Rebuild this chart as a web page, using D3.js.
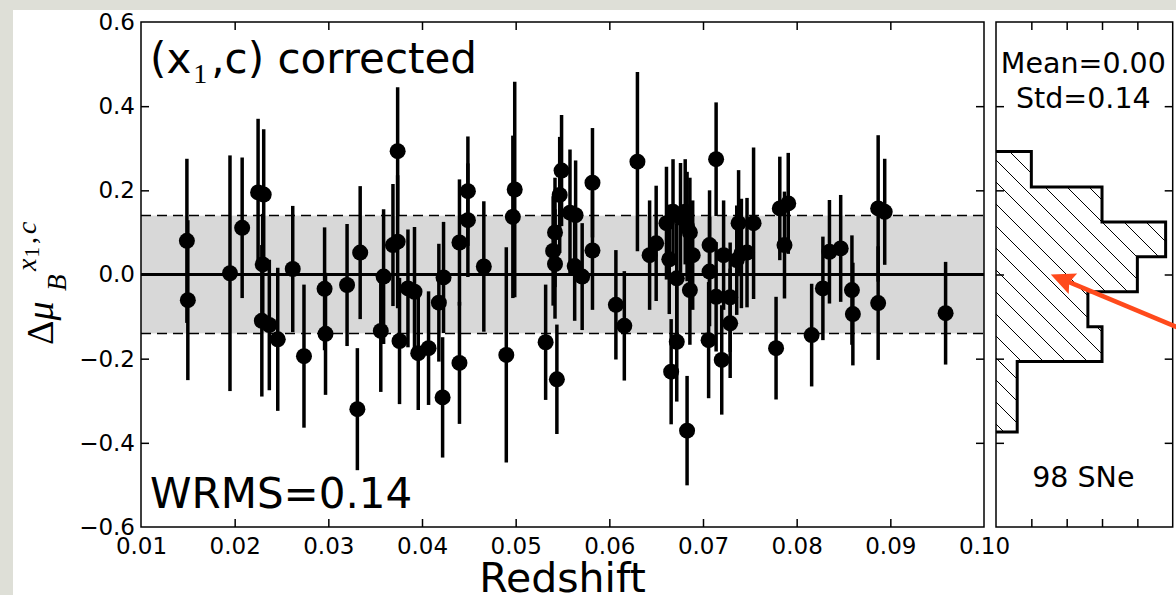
<!DOCTYPE html>
<html>
<head>
<meta charset="utf-8">
<script src="https://cdn.jsdelivr.net/npm/d3@7"></script>
<style>
  body { margin: 0; background: #dedfd7; }
  svg { display: block; }
  .tick text { font-family: 'DejaVu Sans', sans-serif; font-size: 23px; fill: #000; }
  .txt { font-family: 'DejaVu Sans', sans-serif; fill: #000; }
</style>
</head>
<body>
<div id="chart"></div>
<script>
// redshift, Hubble residual, error
const redshift = [
  0.0149, 0.0150, 0.0195, 0.0208, 0.0225, 0.0231, 0.0230, 0.0229, 0.0237, 0.0246,
  0.0262, 0.0274, 0.0296, 0.0297, 0.0320, 0.0331, 0.0334, 0.0356, 0.0359, 0.0369,
  0.0374, 0.0374, 0.0376, 0.0385, 0.0392, 0.0396, 0.0407, 0.0418, 0.0422, 0.0423,
  0.0440, 0.0440, 0.0449, 0.0449, 0.0466, 0.0490, 0.0499, 0.0497, 0.0532, 0.0544,
  0.0542, 0.0540, 0.0542, 0.0549, 0.0547, 0.0558, 0.0564, 0.0563, 0.0571, 0.0582,
  0.0582, 0.0607, 0.0616, 0.0630, 0.0643, 0.0650, 0.0661, 0.0664, 0.0668, 0.0672,
  0.0666, 0.0672, 0.0681, 0.0683, 0.0689, 0.0686, 0.0683, 0.0714, 0.0707, 0.0707,
  0.0706, 0.0714, 0.0722, 0.0720, 0.0729, 0.0729, 0.0738, 0.0736, 0.0741, 0.0747,
  0.0754, 0.0778, 0.0782, 0.0791, 0.0787, 0.0816, 0.0828, 0.0835, 0.0847, 0.0859,
  0.0860, 0.0887, 0.0894, 0.0887, 0.0959, 0.0686, 0.0676
];
const residual = [
  0.080, -0.061, 0.003, 0.111, 0.195, 0.190, 0.024, -0.110, -0.120, -0.154,
  0.013, -0.194, -0.034, -0.141, -0.025, -0.320, 0.052, -0.134, -0.005, 0.070,
  0.293, 0.078, -0.158, -0.033, -0.041, -0.187, -0.175, -0.067, -0.292, -0.007,
  0.076, -0.210, 0.198, 0.129, 0.019, -0.191, 0.202, 0.137, -0.161, -0.249,
  0.100, 0.056, 0.025, 0.247, 0.189, 0.147, 0.141, 0.020, -0.005, 0.218,
  0.057, -0.072, -0.122, 0.268, 0.046, 0.074, 0.122, 0.036, 0.149, -0.160,
  -0.231, -0.009, 0.149, 0.114, 0.046, -0.037, -0.371, 0.274, 0.070, 0.007,
  -0.156, -0.053, 0.046, -0.203, -0.116, -0.054, 0.122, 0.034, 0.050, 0.052,
  0.122, -0.175, 0.157, 0.169, 0.070, -0.144, -0.033, 0.054, 0.062, -0.037,
  -0.094, 0.157, 0.149, -0.068, -0.092, 0.100, 0.135
];
const residualErr = [
  0.195, 0.190, 0.280, 0.167, 0.175, 0.155, 0.120, 0.180, 0.155, 0.170,
  0.150, 0.170, 0.146, 0.145, 0.145, 0.145, 0.158, 0.145, 0.160, 0.145,
  0.152, 0.158, 0.150, 0.140, 0.154, 0.135, 0.135, 0.140, 0.143, 0.132,
  0.150, 0.145, 0.130, 0.135, 0.155, 0.256, 0.256, 0.193, 0.137, 0.130,
  0.130, 0.130, 0.130, 0.132, 0.138, 0.150, 0.130, 0.130, 0.127, 0.130,
  0.141, 0.130, 0.130, 0.213, 0.130, 0.137, 0.134, 0.130, 0.125, 0.142,
  0.125, 0.130, 0.125, 0.130, 0.130, 0.130, 0.130, 0.135, 0.130, 0.130,
  0.138, 0.130, 0.130, 0.130, 0.130, 0.130, 0.126, 0.130, 0.130, 0.130,
  0.180, 0.122, 0.123, 0.120, 0.127, 0.122, 0.123, 0.123, 0.127, 0.130,
  0.122, 0.174, 0.126, 0.135, 0.122, 0.130, 0.130
];

const xTicks = [0.01, 0.02, 0.03, 0.04, 0.05, 0.06, 0.07, 0.08, 0.09, 0.10];
const yTicks = [-0.6, -0.4, -0.2, 0.0, 0.2, 0.4, 0.6];
const histTicks = [1, 2, 3, 4];

// histogram of residuals (horizontal), edges in mag, normalised height
const histEdges = [-0.374, -0.290, -0.207, -0.124, -0.041, 0.042, 0.125, 0.208, 0.292];
const histValues = [0.6, 0.6, 3.0, 2.6, 4.0, 4.8, 3.0, 1.0];

const stdBand = 0.14;
const arrowTip = [1.55, 0.0];
const arrowTail = [5.4, -0.135];

const dims = {
  width: 1176,
  height: 595,
  main: { left: 141, right: 984, top: 22, bottom: 527 },
  hist: { left: 996, right: 1172.7 },
};

const svg = d3.select('#chart').append('svg').attr('width', dims.width).attr('height', dims.height);

svg.append('rect').attr('x', 13).attr('y', 10).attr('width', dims.width - 13).attr('height', dims.height - 10).attr('fill', '#fff');

const xScale = d3.scaleLinear().domain([0.01, 0.10]).range([dims.main.left, dims.main.right]);
const yScale = d3.scaleLinear().domain([-0.6, 0.6]).range([dims.main.bottom, dims.main.top]);
const hScale = d3.scaleLinear().domain([0, 5]).range([dims.hist.left, dims.hist.right]);

const points = redshift.map((z, i) => ({ z, mu: residual[i], err: residualErr[i] }));

// shaded +-1 std band
svg.append('rect')
  .attr('x', dims.main.left)
  .attr('y', yScale(stdBand))
  .attr('width', dims.main.right - dims.main.left)
  .attr('height', yScale(-stdBand) - yScale(stdBand))
  .attr('fill', '#d8d8d8');

[stdBand, -stdBand].forEach((v) => {
  svg.append('line')
    .attr('x1', dims.main.left).attr('x2', dims.main.right)
    .attr('y1', yScale(v)).attr('y2', yScale(v))
    .attr('stroke', '#000').attr('stroke-width', 1.5).attr('stroke-dasharray', '10,6');
});

svg.append('line')
  .attr('x1', dims.main.left).attr('x2', dims.main.right)
  .attr('y1', yScale(0)).attr('y2', yScale(0))
  .attr('stroke', '#000').attr('stroke-width', 3);

svg.append('g')
  .selectAll('line')
  .data(points)
  .join('line')
  .attr('x1', (d) => xScale(d.z)).attr('x2', (d) => xScale(d.z))
  .attr('y1', (d) => yScale(d.mu + d.err)).attr('y2', (d) => yScale(d.mu - d.err))
  .attr('stroke', '#000').attr('stroke-width', 3.5);

svg.append('g')
  .selectAll('circle')
  .data(points)
  .join('circle')
  .attr('cx', (d) => xScale(d.z))
  .attr('cy', (d) => yScale(d.mu))
  .attr('r', 8)
  .attr('fill', '#000');

// axes of the main panel, ticks inward
const mainH = dims.main.bottom - dims.main.top;
const mainW = dims.main.right - dims.main.left;
const inner = (v, lo, hi) => v > lo + 1e-9 && v < hi - 1e-9;

svg.append('g')
  .attr('transform', `translate(0, ${dims.main.bottom})`)
  .call(d3.axisBottom(xScale).tickValues(xTicks).tickFormat(d3.format('.2f')).tickSizeInner(-8).tickSizeOuter(0).tickPadding(11))
  .call((g) => g.select('.domain').remove())
  .call((g) => g.selectAll('.tick line').attr('stroke-width', 1.5).attr('opacity', (d) => (inner(d, 0.01, 0.10) ? 1 : 0)));

svg.append('g')
  .attr('transform', `translate(0, ${dims.main.top})`)
  .call(d3.axisTop(xScale).tickValues(xTicks.filter((d) => inner(d, 0.01, 0.10))).tickFormat('').tickSizeInner(-8).tickSizeOuter(0))
  .call((g) => g.select('.domain').remove())
  .call((g) => g.selectAll('.tick line').attr('stroke-width', 1.5));

svg.append('g')
  .attr('transform', `translate(${dims.main.left}, 0)`)
  .call(d3.axisLeft(yScale).tickValues(yTicks).tickFormat(d3.format('.1f')).tickSizeInner(-8).tickSizeOuter(0).tickPadding(6))
  .call((g) => g.select('.domain').remove())
  .call((g) => g.selectAll('.tick line').attr('stroke-width', 1.5).attr('opacity', (d) => (inner(d, -0.6, 0.6) ? 1 : 0)));

svg.append('g')
  .attr('transform', `translate(${dims.main.right}, 0)`)
  .call(d3.axisRight(yScale).tickValues(yTicks.filter((d) => inner(d, -0.6, 0.6))).tickFormat('').tickSizeInner(-8).tickSizeOuter(0))
  .call((g) => g.select('.domain').remove())
  .call((g) => g.selectAll('.tick line').attr('stroke-width', 1.5));

svg.append('rect')
  .attr('x', dims.main.left).attr('y', dims.main.top)
  .attr('width', mainW).attr('height', mainH)
  .attr('fill', 'none').attr('stroke', '#000').attr('stroke-width', 1.5);

// histogram panel
const defs = svg.append('defs');
const pat = defs.append('pattern')
  .attr('id', 'hatch').attr('patternUnits', 'userSpaceOnUse')
  .attr('width', 22).attr('height', 22);
pat.append('path').attr('d', 'M0,0 L22,22 M-11,11 L11,33 M11,-11 L33,11')
  .attr('stroke', '#000').attr('stroke-width', 1);

const histPts = [[0, histEdges[0]]];
histValues.forEach((v, i) => {
  histPts.push([v, histEdges[i]]);
  histPts.push([v, histEdges[i + 1]]);
});
histPts.push([0, histEdges[histEdges.length - 1]]);

const histLine = d3.line().x((d) => hScale(d[0])).y((d) => yScale(d[1]));

svg.append('path')
  .attr('d', histLine(histPts) + 'Z')
  .attr('fill', 'url(#hatch)')
  .attr('stroke', 'none');
svg.append('path')
  .attr('d', histLine(histPts))
  .attr('fill', 'none')
  .attr('stroke', '#000').attr('stroke-width', 3).attr('stroke-linejoin', 'miter');

svg.append('g')
  .attr('transform', `translate(0, ${dims.main.bottom})`)
  .call(d3.axisBottom(hScale).tickValues(histTicks).tickFormat('').tickSizeInner(-8).tickSizeOuter(0))
  .call((g) => g.select('.domain').remove())
  .call((g) => g.selectAll('.tick line').attr('stroke-width', 1.5));

svg.append('g')
  .attr('transform', `translate(0, ${dims.main.top})`)
  .call(d3.axisTop(hScale).tickValues(histTicks).tickFormat('').tickSizeInner(-8).tickSizeOuter(0))
  .call((g) => g.select('.domain').remove())
  .call((g) => g.selectAll('.tick line').attr('stroke-width', 1.5));

svg.append('g')
  .attr('transform', `translate(${dims.hist.left}, 0)`)
  .call(d3.axisLeft(yScale).tickValues(yTicks.filter((d) => inner(d, -0.6, 0.6))).tickFormat('').tickSizeInner(-8).tickSizeOuter(0))
  .call((g) => g.select('.domain').remove())
  .call((g) => g.selectAll('.tick line').attr('stroke-width', 1.5));

svg.append('g')
  .attr('transform', `translate(${dims.hist.right}, 0)`)
  .call(d3.axisRight(yScale).tickValues(yTicks.filter((d) => inner(d, -0.6, 0.6))).tickFormat('').tickSizeInner(-8).tickSizeOuter(0))
  .call((g) => g.select('.domain').remove())
  .call((g) => g.selectAll('.tick line').attr('stroke-width', 1.5));

svg.append('rect')
  .attr('x', dims.hist.left).attr('y', dims.main.top)
  .attr('width', dims.hist.right - dims.hist.left).attr('height', mainH)
  .attr('fill', 'none').attr('stroke', '#000').attr('stroke-width', 1.5);

// annotation arrow
const tip = [hScale(arrowTip[0]), yScale(arrowTip[1])];
const tail = [hScale(arrowTail[0]), yScale(arrowTail[1])];
const ang = Math.atan2(tail[1] - tip[1], tail[0] - tip[0]) * 180 / Math.PI;
const arrow = svg.append('g').attr('transform', `translate(${tip[0]}, ${tip[1]}) rotate(${ang})`);
const len = Math.hypot(tail[0] - tip[0], tail[1] - tip[1]);
arrow.append('line').attr('x1', 18).attr('x2', len).attr('y1', 0).attr('y2', 0)
  .attr('stroke', '#ff4a1c').attr('stroke-width', 4.5);
arrow.append('path').attr('d', 'M0,0 L24,-11 L20,0 L24,11 Z').attr('fill', '#ff4a1c');

// texts
svg.append('text').attr('class', 'txt').attr('x', 150).attr('y', 72.7).attr('font-size', 42)
  .call((t) => {
    t.append('tspan').text('(x');
    t.append('tspan').attr('font-family', "'Liberation Serif', serif").attr('font-size', 28).attr('dy', 10).attr('dx', 2).text('1');
    t.append('tspan').attr('dy', -10).attr('dx', 4).text(',c) corrected');
  });

svg.append('text').attr('class', 'txt').attr('x', 150).attr('y', 508.3).attr('font-size', 42).text('WRMS=0.14');

const histMid = (dims.hist.left + dims.hist.right) / 2 - 1;
svg.append('text').attr('class', 'txt').attr('x', histMid).attr('y', 72.7).attr('font-size', 28.5).attr('text-anchor', 'middle').text('Mean=0.00');
svg.append('text').attr('class', 'txt').attr('x', histMid).attr('y', 108).attr('font-size', 28.5).attr('text-anchor', 'middle').text('Std=0.14');
svg.append('text').attr('class', 'txt').attr('x', histMid).attr('y', 486.7).attr('font-size', 28.5).attr('text-anchor', 'middle').text('98 SNe');

svg.append('text').attr('class', 'txt').attr('x', (dims.main.left + dims.main.right) / 2).attr('y', 592)
  .attr('font-size', 41).attr('text-anchor', 'middle').text('Redshift');

// y label: Delta mu_B^{x1,c}
const serif = "'Liberation Serif', 'DejaVu Serif', serif";
svg.append('text').attr('transform', 'translate(53, 345) rotate(-90)')
  .attr('font-family', serif).attr('font-size', 38)
  .call((t) => {
    t.append('tspan').text('Δ');
    t.append('tspan').attr('font-style', 'italic').text('μ');
  });
svg.append('text').attr('transform', 'translate(66, 291) rotate(-90)')
  .attr('font-family', serif).attr('font-size', 27).attr('font-style', 'italic').text('B');
svg.append('text').attr('transform', 'translate(36, 271) rotate(-90)')
  .attr('font-family', serif).attr('font-size', 28)
  .call((t) => {
    t.append('tspan').attr('font-style', 'italic').text('x');
    t.append('tspan').attr('font-size', 21).attr('dy', 3).attr('dx', 1).text('1');
    t.append('tspan').attr('dy', -3).attr('dx', 3).text(',');
    t.append('tspan').attr('font-style', 'italic').attr('dx', 3).text('c');
  });
</script>
</body>
</html>
